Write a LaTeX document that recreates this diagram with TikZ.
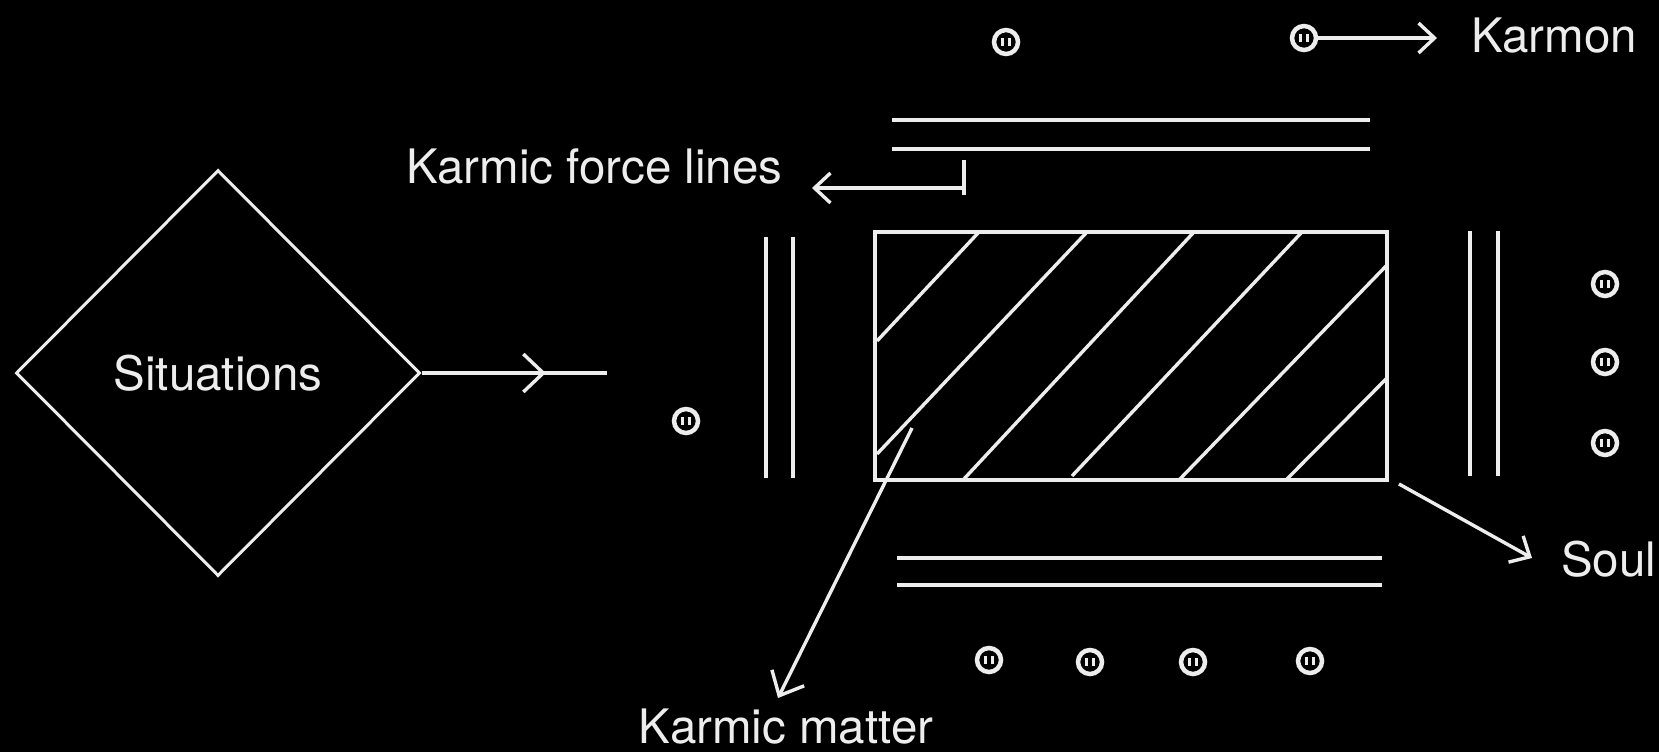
\documentclass[tikz,border=0pt]{standalone}
\usepackage{fontspec}
\setmainfont{TeX Gyre Heros}
\usetikzlibrary{shapes.geometric,arrows.meta,decorations.markings}
\definecolor{ink}{HTML}{EDEDED}
\begin{document}
\begin{tikzpicture}[x=1pt,y=-1pt,
  line/.style={draw=ink, line width=3.4pt},
  lbl/.style={text=ink, inner sep=0pt, font=\fontsize{47.5}{56}\selectfont},
  barb/.style={-{Straight Barb[length=16pt,width=30pt]}},
  karmon/.style={circle, draw=ink, line width=4.5pt, minimum size=24pt, inner sep=0pt,
    path picture={\draw[ink, line width=2.6pt]
      ([xshift=-3.5pt,yshift=4pt]path picture bounding box.center) -- ++(0,-8pt)
      ([xshift=3.5pt,yshift=4pt]path picture bounding box.center) -- ++(0,-8pt);}},
]
\fill[black] (0,0) rectangle (1659,752);
\useasboundingbox (0,0) rectangle (1659,752);

% Situations
\node[diamond, line, line width=3pt, aspect=1, minimum width=404pt, minimum height=406pt, inner sep=0pt,
      text=ink, font=\fontsize{47.5}{56}\selectfont] (sit) at (218,373) {Situations};
\coordinate (sitEnd) at (607,373);
\draw[line, decoration={markings, mark=at position 0.67 with {\arrow{Straight Barb[length=20pt,width=38pt]}}},
      postaction={decorate}] (sit.east) -- (sitEnd);

% soul box
\node[line, minimum width=512pt, minimum height=248pt, inner sep=0pt] (box) at (1131,356) {};
\draw[line] (877,341) -- (979,232)
            (877,454) -- (1087,232)
            (963,480) -- (1194,232)
            (1072,476) -- (1302,232)
            (1179,480) -- (1387,265)
            (1286,480) -- (1387,378);

% karmic force lines
\draw[line] (892,120) -- (1370,120) (892,149) -- (1370,149);
\draw[line] (897,558) -- (1382,558) (897,585) -- (1382,585);
\draw[line] (766,237) -- (766,478) (793,237) -- (793,478);
\draw[line] (1470,231) -- (1470,476) (1498,231) -- (1498,476);

% karmons
\node[karmon] (kt1) at (1006,42) {};
\node[karmon] (kt2) at (1304,38) {};
\node[karmon] (kl) at (686,421) {};
\node[karmon] (kr1) at (1605,284) {};
\node[karmon] (kr2) at (1605,362) {};
\node[karmon] (kr3) at (1605,443) {};
\node[karmon] (kb1) at (989,660) {};
\node[karmon] (kb2) at (1090,662) {};
\node[karmon] (kb3) at (1193,662) {};
\node[karmon] (kb4) at (1310,661) {};

% labels
\node[lbl, anchor=west] (karmon) at (1471,36) {Karmon};
\node[lbl, anchor=west] (kfl) at (406,166) {Karmic force lines};
\node[lbl, anchor=west] (soul) at (1561,559) {Soul};
\node[lbl] (km) at (786,727) {Karmic matter};

% connectors
\coordinate (karmonTip) at (1437,38);
\draw[line, barb] (kt2.east) -- (karmonTip);

\coordinate (kflTop) at (964,160);
\coordinate (kflCorner) at (964,188);
\coordinate (kflBot) at (964,195);
\coordinate (kflTip) at (812,188);
\draw[line] (kflTop) -- (kflBot);
\draw[line, barb] (kflCorner) -- (kflTip);

\coordinate (soulStart) at (1399,484);
\coordinate (soulTip) at (1532,558);
\draw[line, barb] (soulStart) -- (soulTip);

\coordinate (kmStart) at (912,428);
\coordinate (kmTip) at (778,698);
\draw[line, -{Straight Barb[length=20pt,width=36pt]}] (kmStart) -- (kmTip);
\end{tikzpicture}
\end{document}
